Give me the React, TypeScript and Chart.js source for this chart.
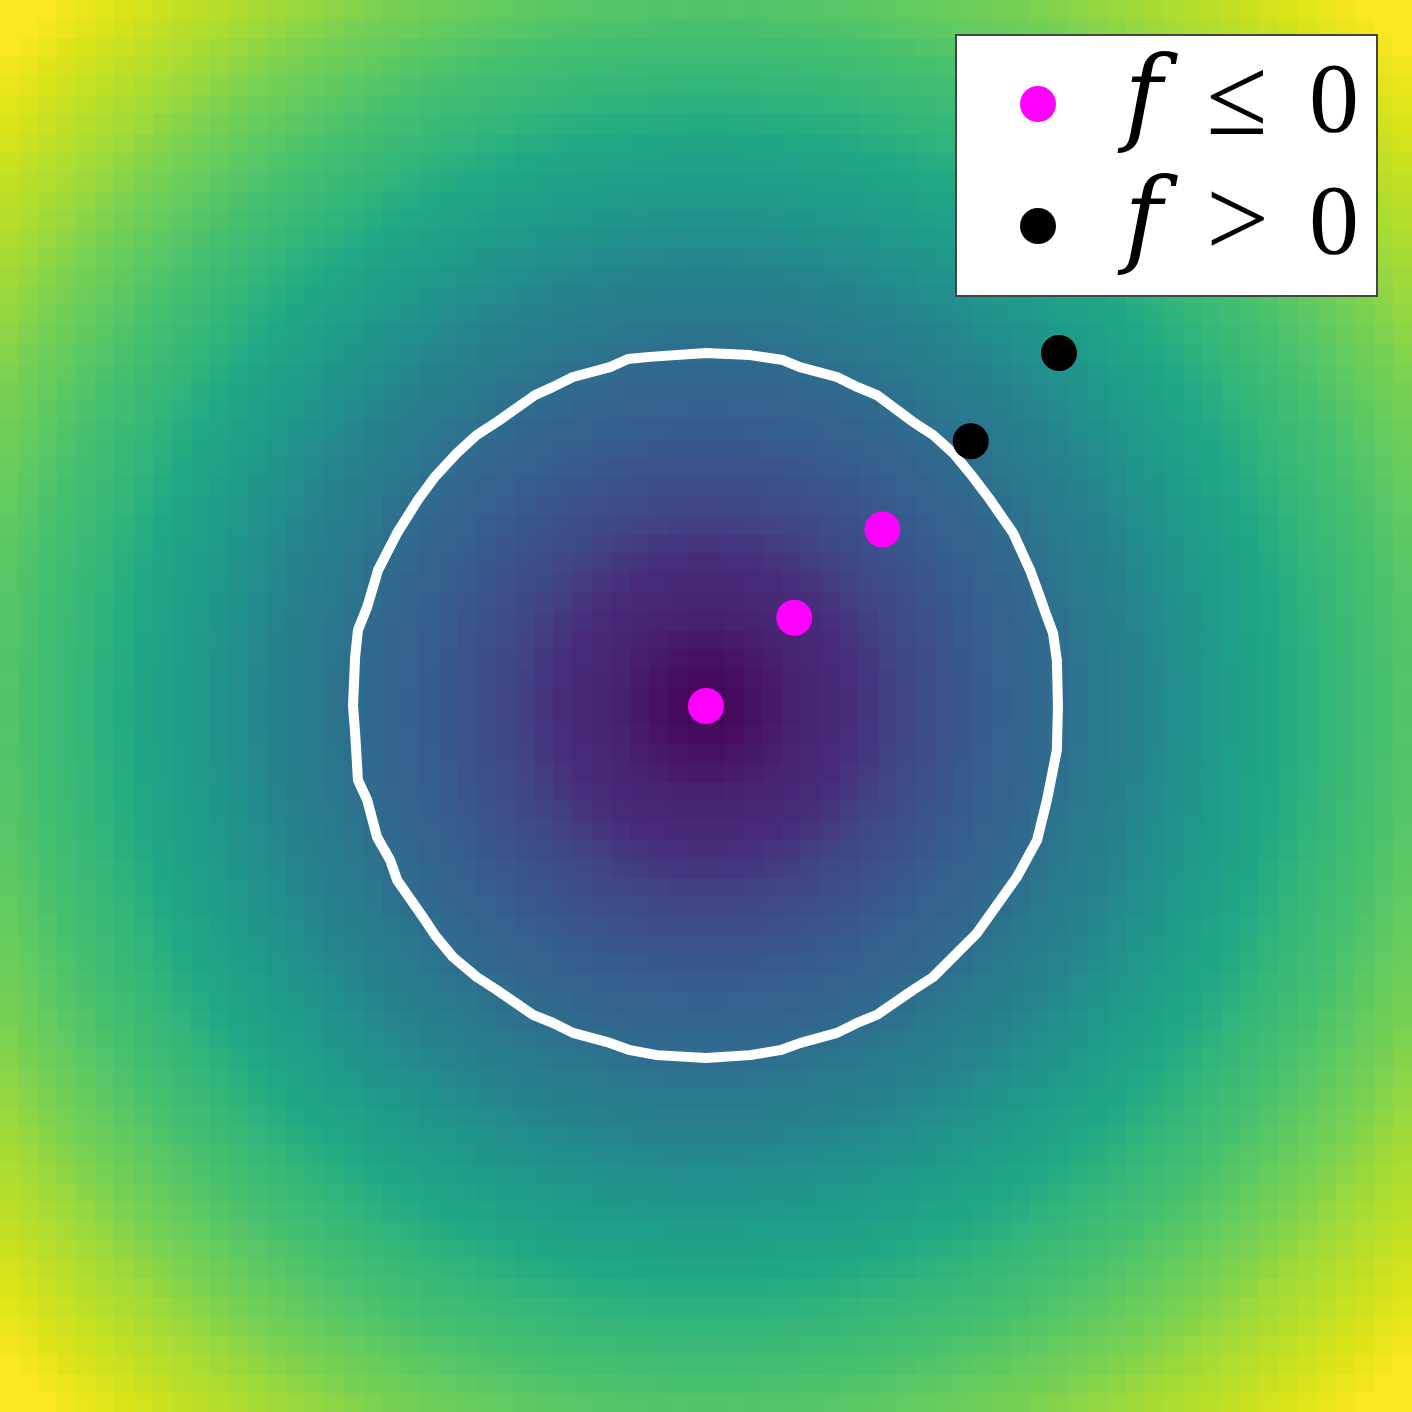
import React, { useEffect, useRef } from 'react';
import { Chart, registerables } from 'chart.js';

Chart.register(...registerables);

// ---------- data ----------
const xRange = [-2, 2];
const yRange = [-2, 2];
const gridSize = 74; // heatmap cells per side
const levelRadius = 1; // f(x, y) = sqrt(x^2 + y^2) - r
const colorRange = [-1, 1.72]; // colour-scale limits

const insidePoints = [
  { x: 0, y: 0 },
  { x: 0.25, y: 0.25 },
  { x: 0.5, y: 0.5 },
];
const outsidePoints = [
  { x: 0.75, y: 0.75 },
  { x: 1.0, y: 1.0 },
];

// f = 0 contour
const contourPoints: [number, number][] = [
  [0, 1.0], [0.125, 0.994], [0.218, 0.98], [0.266, 0.96], [0.371, 0.932], [0.428, 0.904],
  [0.484, 0.881], [0.586, 0.805], [0.643, 0.768], [0.7, 0.717], [0.756, 0.649], [0.805, 0.584],
  [0.87, 0.49], [0.918, 0.385], [0.946, 0.309], [0.966, 0.252], [0.983, 0.207], [0.994, 0.13],
  [0.997, 0],
  [0.994, -0.125], [0.966, -0.266], [0.938, -0.38], [0.881, -0.484], [0.824, -0.564],
  [0.768, -0.643], [0.711, -0.7], [0.643, -0.768], [0.586, -0.805], [0.484, -0.875],
  [0.428, -0.898], [0.371, -0.926], [0.266, -0.955], [0.21, -0.975], [0.125, -0.989],
  [0, -0.997],
  [-0.139, -0.989], [-0.215, -0.975], [-0.28, -0.952], [-0.377, -0.926], [-0.433, -0.898],
  [-0.49, -0.875], [-0.592, -0.805], [-0.649, -0.768], [-0.717, -0.711], [-0.768, -0.649],
  [-0.802, -0.598], [-0.875, -0.493], [-0.895, -0.436], [-0.932, -0.371], [-0.96, -0.266],
  [-0.986, -0.21], [-0.994, -0.076], [-1.0, 0],
  [-0.994, 0.139], [-0.986, 0.215], [-0.96, 0.28], [-0.929, 0.385], [-0.875, 0.49],
  [-0.816, 0.584], [-0.768, 0.649], [-0.705, 0.717], [-0.649, 0.768], [-0.592, 0.805],
  [-0.484, 0.881], [-0.433, 0.904], [-0.377, 0.932], [-0.272, 0.96], [-0.221, 0.983],
  [-0.159, 0.989], [0, 1.0],
];

const legendLabels = ['f ≤ 0', 'f > 0'];
const pointColors = ['#ff00ff', '#000000'];

// viridis colormap stops
const viridisStops = [
  '#440154', '#471164', '#482475', '#472c7a', '#414487', '#3b528b', '#355f8d', '#31688e',
  '#2a788e', '#26828e', '#21918c', '#1f9e89', '#22a884', '#35b779', '#44bf70', '#5ec962',
  '#7ad151', '#a0da39', '#bddf26', '#dde318', '#fde725',
];

function hexToRgb(h: string) {
  return [parseInt(h.slice(1, 3), 16), parseInt(h.slice(3, 5), 16), parseInt(h.slice(5, 7), 16)];
}
const viridisRgb = viridisStops.map(hexToRgb);

function viridis(t: number) {
  const c = Math.max(0, Math.min(1, t)) * (viridisRgb.length - 1);
  const i = Math.min(viridisRgb.length - 2, Math.floor(c));
  const f = c - i;
  const a = viridisRgb[i];
  const b = viridisRgb[i + 1];
  return `rgb(${Math.round(a[0] + (b[0] - a[0]) * f)},${Math.round(a[1] + (b[1] - a[1]) * f)},${Math.round(
    a[2] + (b[2] - a[2]) * f
  )})`;
}

function field(x: number, y: number) {
  return Math.sqrt(x * x + y * y) - levelRadius;
}

const heatmapPlugin = {
  id: 'heatmap',
  beforeDatasetsDraw(chart: any) {
    const { ctx, chartArea, scales } = chart;
    const xs = scales.x;
    const ys = scales.y;
    const dx = (xRange[1] - xRange[0]) / gridSize;
    const dy = (yRange[1] - yRange[0]) / gridSize;
    const vmin = colorRange[0];
    const vmax = colorRange[1];
    ctx.save();
    ctx.beginPath();
    ctx.rect(chartArea.left, chartArea.top, chartArea.right - chartArea.left, chartArea.bottom - chartArea.top);
    ctx.clip();
    for (let j = 0; j < gridSize; j++) {
      const py0 = Math.round(ys.getPixelForValue(yRange[0] + (j + 1) * dy));
      const py1 = Math.round(ys.getPixelForValue(yRange[0] + j * dy));
      for (let i = 0; i < gridSize; i++) {
        const px0 = Math.round(xs.getPixelForValue(xRange[0] + i * dx));
        const px1 = Math.round(xs.getPixelForValue(xRange[0] + (i + 1) * dx));
        const v = field(xRange[0] + (i + 0.5) * dx, yRange[0] + (j + 0.5) * dy);
        ctx.fillStyle = viridis((v - vmin) / (vmax - vmin));
        ctx.fillRect(px0, py0, px1 - px0, py1 - py0);
      }
    }
    ctx.restore();
  },
};

const legendPlugin = {
  id: 'texLegend',
  afterDraw(chart: any) {
    const { ctx, chartArea } = chart;
    const items = chart.data.datasets.filter((d: any) => d.inLegend);
    const boxW = 421;
    const boxH = 261;
    const left = chartArea.right - 35 - boxW;
    const top = chartArea.top + 35;
    ctx.save();
    ctx.fillStyle = '#ffffff';
    ctx.fillRect(left, top, boxW, boxH);
    ctx.strokeStyle = '#444444';
    ctx.lineWidth = 2;
    ctx.strokeRect(left, top, boxW, boxH);
    items.forEach((d: any, k: number) => {
      const cy = top + 69 + k * 122;
      ctx.beginPath();
      ctx.fillStyle = d.backgroundColor;
      ctx.arc(left + 82, cy, 18, 0, Math.PI * 2);
      ctx.fill();
      const tokens = String(d.label).split(' ');
      const base = cy + 27;
      const xs = [left + 168, left + 250, left + 353];
      const fonts = [
        "italic 104px 'DejaVu Serif', 'Liberation Serif', serif",
        "112px 'Liberation Serif', 'DejaVu Serif', serif",
        "100px 'Liberation Serif', 'DejaVu Serif', serif",
      ];
      ctx.fillStyle = '#000000';
      ctx.textBaseline = 'alphabetic';
      ctx.textAlign = 'left';
      tokens.forEach((t: string, ti: number) => {
        ctx.font = fonts[Math.min(ti, fonts.length - 1)];
        ctx.fillText(t, xs[Math.min(ti, xs.length - 1)], base + (ti === 1 ? 3 : 0));
      });
    });
    ctx.restore();
  },
};

export default function App() {
  const canvasRef = useRef<HTMLCanvasElement | null>(null);

  useEffect(() => {
    if (!canvasRef.current) return;
    const chart = new Chart(canvasRef.current, {
      type: 'scatter',
      data: {
        datasets: [
          {
            label: legendLabels[0],
            inLegend: true,
            data: insidePoints,
            backgroundColor: pointColors[0],
            borderWidth: 0,
            pointRadius: 18,
            pointHoverRadius: 18,
            order: 0,
          } as any,
          {
            label: legendLabels[1],
            inLegend: true,
            data: outsidePoints,
            backgroundColor: pointColors[1],
            borderWidth: 0,
            pointRadius: 18,
            pointHoverRadius: 18,
            order: 0,
          } as any,
          {
            label: 'f = 0',
            inLegend: false,
            data: contourPoints.map(([x, y]) => ({ x, y })),
            showLine: true,
            borderColor: '#ffffff',
            borderWidth: 10,
            borderJoinStyle: 'round',
            borderCapStyle: 'round',
            pointRadius: 0,
            pointHoverRadius: 0,
            fill: false,
            tension: 0,
            order: 1,
          } as any,
        ],
      },
      options: {
        animation: false,
        responsive: false,
        devicePixelRatio: 1,
        layout: { padding: 0, autoPadding: false },
        events: [],
        scales: {
          x: { type: 'linear', min: xRange[0], max: xRange[1], display: false },
          y: { type: 'linear', min: yRange[0], max: yRange[1], display: false },
        },
        plugins: {
          legend: { display: false },
          tooltip: { enabled: false },
        },
      },
      plugins: [heatmapPlugin, legendPlugin],
    });
    return () => chart.destroy();
  }, []);

  return (
    <div style={{ position: 'absolute', left: 0, top: 0, width: 1412, height: 1412 }}>
      <canvas ref={canvasRef} width={1412} height={1412} style={{ display: 'block' }} />
    </div>
  );
}
